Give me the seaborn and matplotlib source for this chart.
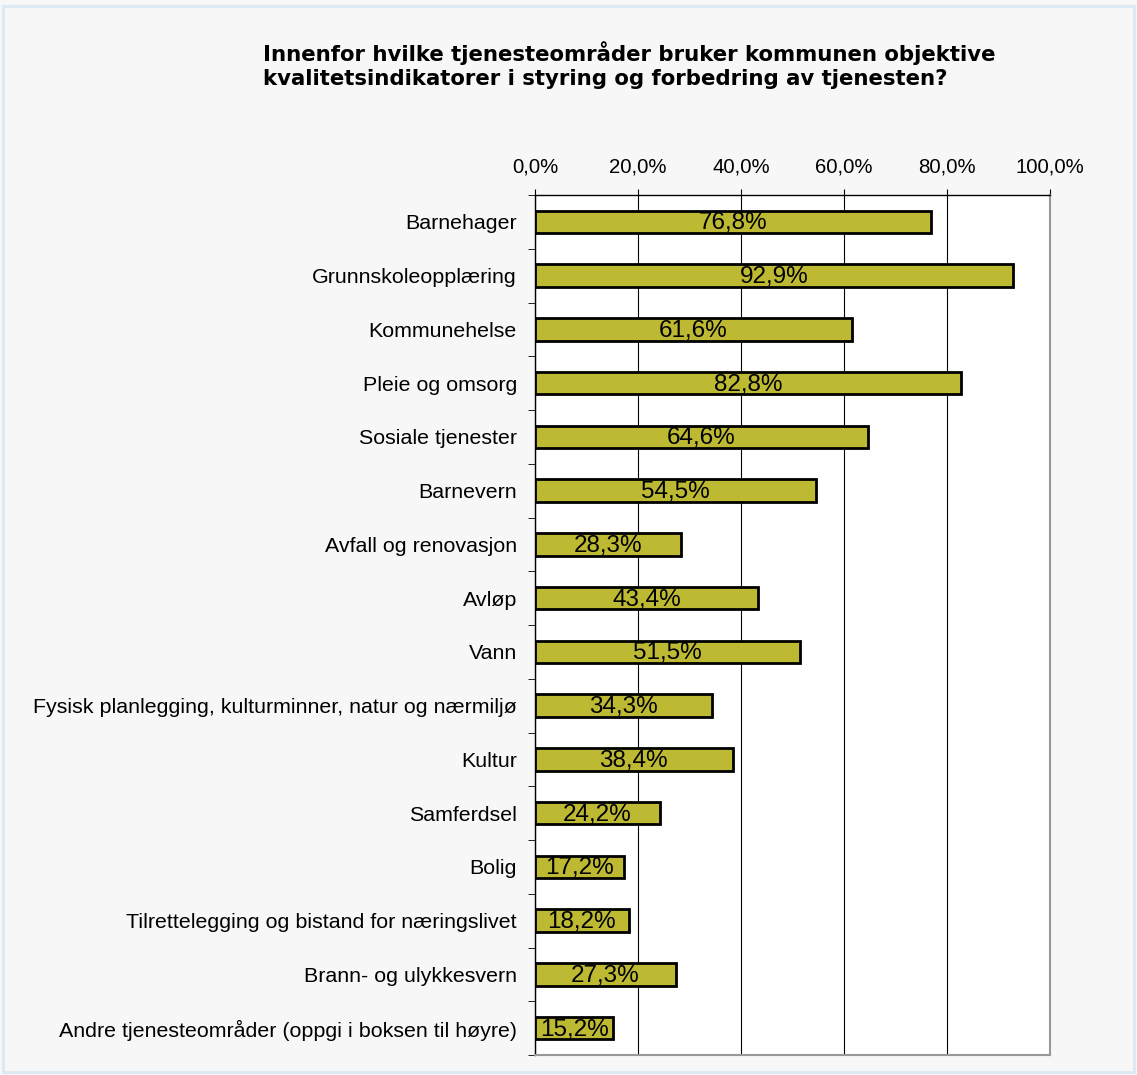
import numpy as np
import pandas as pd
import matplotlib.pyplot as plt
import seaborn as sns

categories = ['Barnehager', 'Grunnskoleopplæring', 'Kommunehelse', 'Pleie og omsorg',
              'Sosiale tjenester', 'Barnevern', 'Avfall og renovasjon', 'Avløp', 'Vann',
              'Fysisk planlegging, kulturminner, natur og nærmiljø', 'Kultur', 'Samferdsel',
              'Bolig', 'Tilrettelegging og bistand for næringslivet', 'Brann- og ulykkesvern',
              'Andre tjenesteområder (oppgi i boksen til høyre)']
values = [76.8, 92.9, 61.6, 82.8, 64.6, 54.5, 28.3, 43.4, 51.5, 34.3, 38.4, 24.2, 17.2, 18.2, 27.3, 15.2]
x_ticks = [0, 20, 40, 60, 80, 100]

df = pd.DataFrame({'omrade': categories, 'andel': values})

sns.set_style('white')
plt.rcParams['font.family'] = ['Liberation Sans', 'DejaVu Sans']
plt.rcParams['text.color'] = 'black'
plt.rcParams['xtick.color'] = 'black'
plt.rcParams['ytick.color'] = 'black'

fig = plt.figure(figsize=(11.37, 10.75), dpi=100, facecolor='#f7f7f7')
ax = fig.add_axes([0.4705, 0.0186, 0.453, 0.8000])
ax.set_facecolor('white')

sns.barplot(data=df, x='andel', y='omrade', orient='h', color='#bdb933', saturation=1,
            width=0.42, edgecolor='black', linewidth=2, ax=ax, zorder=3)

for i, v in enumerate(values):
    ax.text(v / 2, i + 0.03, f'{v:.1f}%'.replace('.', ','), ha='center', va='center',
            fontsize=17.5, color='black', zorder=4)

ax.set_xlim(0, 100)
ax.set_ylim(len(categories) - 0.5, -0.5)
ax.set_xticks(x_ticks)
ax.set_xticklabels([f'{t:.1f}%'.replace('.', ',') for t in x_ticks], fontsize=14.7)
ax.xaxis.tick_top()
ax.tick_params(axis='x', length=4, pad=9, color='black', top=True, bottom=False)
ax.tick_params(axis='y', which='major', length=0, labelsize=15.4, pad=13)
ax.set_yticks(np.arange(len(categories) + 1) - 0.5, minor=True)
ax.tick_params(axis='y', which='minor', length=5, color='black', left=True)
ax.grid(axis='x', color='black', linewidth=0.8, zorder=0)
ax.set_xlabel('')
ax.set_ylabel('')
for side in ['left', 'top']:
    ax.spines[side].set_color('black')
    ax.spines[side].set_linewidth(1)
for side in ['right', 'bottom']:
    ax.spines[side].set_color('#999999')
    ax.spines[side].set_linewidth(1.5)

fig.text(0.2313, 0.962, 'Innenfor hvilke tjenesteområder bruker kommunen objektive\n'
         'kvalitetsindikatorer i styring og forbedring av tjenesten?',
         ha='left', va='top', fontsize=15.3, fontweight='bold', family='DejaVu Sans',
         linespacing=1.25)

fig.patches.append(plt.Rectangle((0.003, 0.003), 0.994, 0.991, transform=fig.transFigure,
                                 fill=False, edgecolor='#dce8f2', linewidth=2))

fig.savefig('out.png', dpi=100, facecolor=fig.get_facecolor())
